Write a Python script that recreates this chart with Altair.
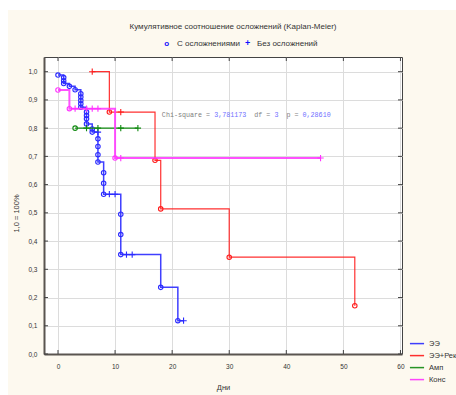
import altair as alt
import pandas as pd

# ---------------- data ----------------
series_names = ["ЭЭ", "ЭЭ+Рек", "Амп", "Конс"]
series_colors = ["#2a2aff", "#ff1a1a", "#108a10", "#ff33ff"]

ee_days = [0, 1, 1, 1, 2, 3, 4, 4, 4, 4, 4, 5, 5, 5, 5, 6, 6, 7, 7, 7, 7, 7, 8, 8, 8, 9, 10, 11, 11, 11, 12, 13, 18, 21, 22]
ee_surv = [0.988, 0.979, 0.968, 0.958, 0.948, 0.936, 0.922, 0.910, 0.898, 0.886, 0.874, 0.857, 0.845, 0.833, 0.815,
           0.797, 0.786, 0.786, 0.762, 0.735, 0.706, 0.680, 0.642, 0.605, 0.566, 0.566, 0.566, 0.495, 0.423, 0.352,
           0.352, 0.352, 0.236, 0.118, 0.118]
ee_mark = ["o", "o", "o", "o", "o", "o", "o", "o", "o", "o", "o", "o", "o", "o", "o", "o", "o", "+", "o", "o", "o",
           "o", "o", "o", "o", "+", "+", "o", "o", "o", "+", "+", "o", "o", "+"]

rec_days = [6, 9, 11, 17, 18, 30, 52]
rec_surv = [1.0, 0.857, 0.857, 0.686, 0.514, 0.343, 0.171]
rec_mark = ["+", "o", "+", "o", "o", "o", "o"]

amp_days = [3, 5, 7, 11, 14]
amp_surv = [0.8, 0.8, 0.8, 0.8, 0.8]
amp_mark = ["o", "+", "+", "+", "+"]

kons_days = [0, 2, 3, 5, 6, 7, 10, 11, 46]
kons_surv = [0.935, 0.869, 0.869, 0.869, 0.869, 0.869, 0.694, 0.694, 0.694]
kons_mark = ["o", "o", "+", "+", "+", "+", "o", "+", "+"]

x_ticks = [0, 10, 20, 30, 40, 50, 60]
y_ticks = [0.0, 0.1, 0.2, 0.3, 0.4, 0.5, 0.6, 0.7, 0.8, 0.9, 1.0]

chart_title = "Кумулятивное соотношение осложнений (Kaplan-Meier)"
top_legend = ["С осложнениями", "Без осложнений"]
chi_square = "3,781173"
chi_df = "3"
chi_p = "0,28610"
chi_pos = (18.2, 0.846)

# ---------------- layout ----------------
W, H = 358, 297
PAD = {"left": 44, "top": 57, "right": 54, "bottom": 41}
FONT = "Liberation Sans Narrow, Liberation Sans, Arial, sans-serif"
MONO = "Liberation Mono, DejaVu Sans Mono, monospace"
TXT = "#333333"
CROSS = "M-1,0L1,0M0,-1L0,1"
CHI_FS = 6.7
CHAR_W = 0.6 * CHI_FS

series_data = [
    (ee_days, ee_surv, ee_mark, 1.5, 0.9),
    (rec_days, rec_surv, rec_mark, 1.2, 0.9),
    (amp_days, amp_surv, amp_mark, 1.2, 1.0),
    (kons_days, kons_surv, kons_mark, 2.0, 0.85),
]

x_enc = alt.X("day:Q",
              scale=alt.Scale(domain=[-2.45, 60.27], nice=False, zero=False),
              axis=alt.Axis(values=x_ticks, grid=True, gridColor="#dcdcdc", ticks=False,
                            domainColor="#5a5550", domainWidth=2, labelFontSize=6.5,
                            labelColor=TXT, labelFont=FONT, labelPadding=9, labelFlush=False,
                            labelOverlap=False, title="Дни", titleFont=FONT, titleFontSize=7.5,
                            titleFontWeight="normal", titleColor=TXT, titleY=33,
                            titleBaseline="middle"))
y_enc = alt.Y("surv:Q",
              scale=alt.Scale(domain=[0, 1.052], nice=False, zero=False),
              axis=alt.Axis(values=y_ticks, grid=True, gridColor="#dcdcdc", ticks=False,
                            domainColor="#5a5550", domainWidth=2, labelFontSize=6.5,
                            labelColor=TXT, labelFont=FONT, labelPadding=7, labelFlush=False,
                            labelOverlap=False,
                            labelExpr="replace(format(datum.value, '.1f'), '.', ',')",
                            title="1,0 = 100%", titleFont=FONT, titleFontSize=7.5,
                            titleFontWeight="normal", titleColor=TXT, titleX=-28, titleY=156,
                            titleAngle=270, titleAlign="center", titleBaseline="middle"))

color_scale = alt.Scale(domain=series_names, range=series_colors)
legend = alt.Legend(orient="none", legendX=365, legendY=278.6, title=None, symbolType="stroke",
                    symbolSize=200, symbolStrokeWidth=1.5, labelFontSize=7.5, labelColor=TXT,
                    labelFont=FONT, rowPadding=0, labelOffset=4, padding=0, direction="vertical")

one = pd.DataFrame({"a": [0]})
layers = []

# white outer margins (left and top)
layers.append(alt.Chart(one).mark_rect(color="white").encode(
    x=alt.value(-PAD["left"]), x2=alt.value(-36), y=alt.value(-PAD["top"]), y2=alt.value(H + PAD["bottom"])))
layers.append(alt.Chart(one).mark_rect(color="white").encode(
    x=alt.value(-PAD["left"]), x2=alt.value(W + PAD["right"]), y=alt.value(-PAD["top"]), y2=alt.value(-47)))

frames = []
for name, color, (d, s, m, sw, op) in zip(series_names, series_colors, series_data):
    df = pd.DataFrame({"day": d, "surv": s, "mark": m, "series": name, "idx": list(range(len(d)))})
    frames.append((df, color, sw, op))

for df, color, sw, op in frames:
    layers.append(alt.Chart(df).mark_line(interpolate="step-after", strokeWidth=sw, opacity=op).encode(
        x=x_enc, y=y_enc, order="idx:Q",
        color=alt.Color("series:N", scale=color_scale, legend=legend)))
    layers.append(alt.Chart(df).mark_point(filled=False, strokeWidth=1.1, color=color, opacity=1).encode(
        x=x_enc, y=y_enc,
        shape=alt.Shape("mark:N", scale=alt.Scale(domain=["o", "+"], range=["circle", CROSS]), legend=None),
        size=alt.Size("mark:N", scale=alt.Scale(domain=["o", "+"], range=[20, 40]), legend=None)))

# inward ticks on all four sides
ydf = pd.DataFrame({"surv": y_ticks})
xdf = pd.DataFrame({"day": x_ticks})
layers.append(alt.Chart(ydf).mark_rule(color="#444", strokeWidth=1).encode(y=y_enc, x=alt.value(0), x2=alt.value(4)))
layers.append(alt.Chart(ydf).mark_rule(color="#444", strokeWidth=1).encode(y=y_enc, x=alt.value(W - 4), x2=alt.value(W)))
layers.append(alt.Chart(xdf).mark_rule(color="#444", strokeWidth=1).encode(x=x_enc, y=alt.value(H - 4), y2=alt.value(H)))
layers.append(alt.Chart(xdf).mark_rule(color="#444", strokeWidth=1).encode(x=x_enc, y=alt.value(0), y2=alt.value(4)))

# chi-square annotation: monospace segments, each shifted by its character offset
segments = [("Chi-square =", "#808080"), (chi_square, "#7070ff"), ("df =", "#808080"), (chi_df, "#7070ff"),
            ("p =", "#808080"), (chi_p, "#7070ff")]
gaps = [0, 1, 2, 1, 2, 1]  # spaces before each segment
chi_df_pos = pd.DataFrame({"day": [chi_pos[0]], "surv": [chi_pos[1]]})
offset = 0
for (txt, col), g in zip(segments, gaps):
    offset += g
    layers.append(alt.Chart(chi_df_pos).mark_text(align="left", baseline="middle", font=MONO, fontSize=CHI_FS,
                                                  color=col, dx=offset * CHAR_W).encode(
        x=x_enc, y=y_enc, text=alt.value(txt)))
    offset += len(txt)

# title and top legend
layers.append(alt.Chart(one).mark_text(align="center", baseline="middle", font=FONT, fontSize=8, color=TXT).encode(
    x=alt.value(189), y=alt.value(-30), text=alt.value(chart_title)))
layers.append(alt.Chart(one).mark_text(align="center", baseline="middle", font=FONT, fontSize=8,
                                       fontWeight="bold", color="#1010ff").encode(
    x=alt.value(122.7), y=alt.value(-13.5), text=alt.value("o")))
layers.append(alt.Chart(one).mark_text(align="left", baseline="middle", font=FONT, fontSize=8, color=TXT).encode(
    x=alt.value(133), y=alt.value(-13), text=alt.value(top_legend[0])))
layers.append(alt.Chart(one).mark_text(align="center", baseline="middle", font=FONT, fontSize=9,
                                       fontWeight="bold", color="#1010ff").encode(
    x=alt.value(203.7), y=alt.value(-14), text=alt.value("+")))
layers.append(alt.Chart(one).mark_text(align="left", baseline="middle", font=FONT, fontSize=8, color=TXT).encode(
    x=alt.value(213), y=alt.value(-13), text=alt.value(top_legend[1])))

chart = alt.layer(*layers).properties(
    width=W, height=H, padding=PAD, autosize=alt.AutoSizeParams(type="none"),
    background="#fdf9ef",
).configure_view(fill="white", stroke="#444", strokeWidth=1)

chart.save("out.html", embed_options={"renderer": "svg", "actions": False})
